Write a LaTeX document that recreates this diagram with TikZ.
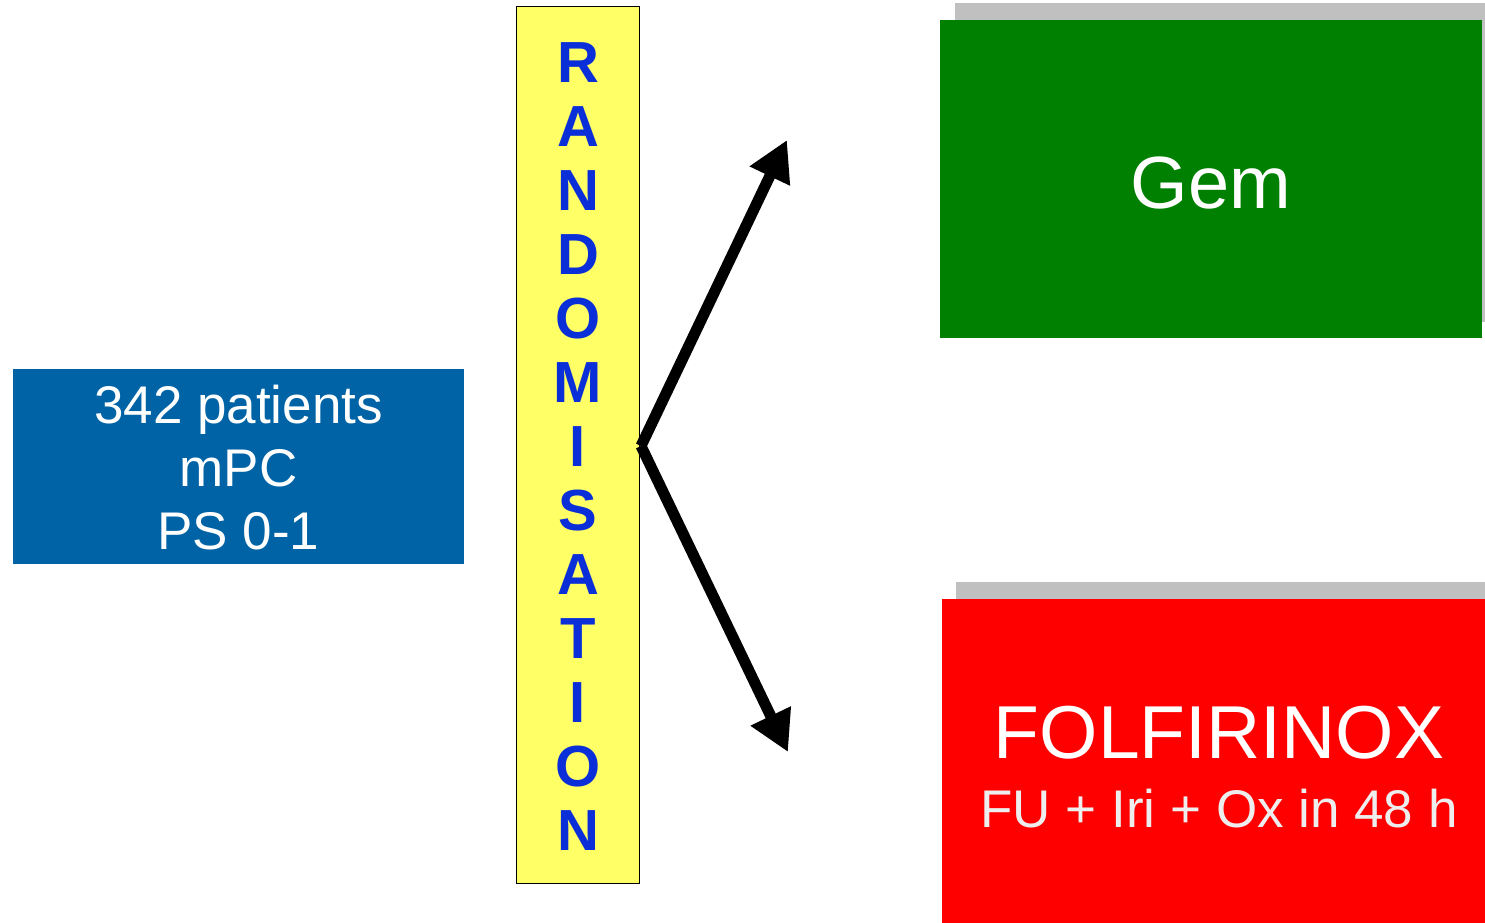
\documentclass[tikz,border=0pt]{standalone}
\usepackage{fontspec}
\setmainfont{Liberation Sans}
\usetikzlibrary{arrows.meta}
\definecolor{boxblue}{HTML}{0063A6}
\definecolor{randyellow}{HTML}{FFFF66}
\definecolor{letterblue}{HTML}{0A2ED8}
\definecolor{gemgreen}{HTML}{008000}
\definecolor{folred}{HTML}{FF0000}
\definecolor{shadowgray}{HTML}{C0C0C0}
\definecolor{sublight}{HTML}{EEEEEE}
\tikzset{
  box/.style={rectangle, inner sep=0pt, outer sep=0pt},
  shadowbox/.style={box, fill=shadowgray},
  splitarrow/.style={line width=11pt, -{Triangle[length=40pt,width=42pt]}},
}
\begin{document}
\begin{tikzpicture}[x=1pt,y=-1pt]
\useasboundingbox (0,0) rectangle (1485,923);
% patients box
\node[box, fill=boxblue, minimum width=451pt, minimum height=195pt] (patients) at (238.5,466.5) {};
\node[text=white, align=center, font=\fontsize{53}{63}\selectfont] (ptext) at (238.5,468) {342 patients\\mPC\\PS 0-1};
% randomisation bar
\node[box, fill=randyellow, draw=black, line width=1pt, minimum width=123pt, minimum height=876pt] (rand) at (577.5,445) {};
\node[text=letterblue, align=center, font=\fontsize{58}{64}\selectfont\bfseries] (rtext) at (578,447)
  {R\\A\\N\\D\\O\\M\\I\\S\\A\\T\\I\\O\\N};
% Gem arm
\node[shadowbox, minimum width=530pt, minimum height=319pt] (gemshadow) at (1220,162.5) {};
\node[box, fill=gemgreen, minimum width=542pt, minimum height=318pt] (gem) at (1211,179) {};
\node[text=white, font=\fontsize{74}{80}\selectfont] (gemtext) at (1211,183) {Gem};
% FOLFIRINOX arm
\node[shadowbox, minimum width=529pt, minimum height=320pt] (folshadow) at (1220.5,742) {};
\node[box, fill=folred, minimum width=543pt, minimum height=324pt] (fol) at (1213.5,761) {};
\node[text=white, font=\fontsize{75}{80}\selectfont] (foltext) at (1219,733) {FOLFIRINOX};
\node[text=sublight, font=\fontsize{53}{60}\selectfont] (folsub) at (1219,809) {FU + Iri + Ox in 48 h};
% arrows
\coordinate (split) at (641,446);
\coordinate (uptip) at (787,140);
\coordinate (downtip) at (788,752);
\draw[splitarrow] (split) -- (uptip);
\draw[splitarrow] (split) -- (downtip);
\end{tikzpicture}
\end{document}
